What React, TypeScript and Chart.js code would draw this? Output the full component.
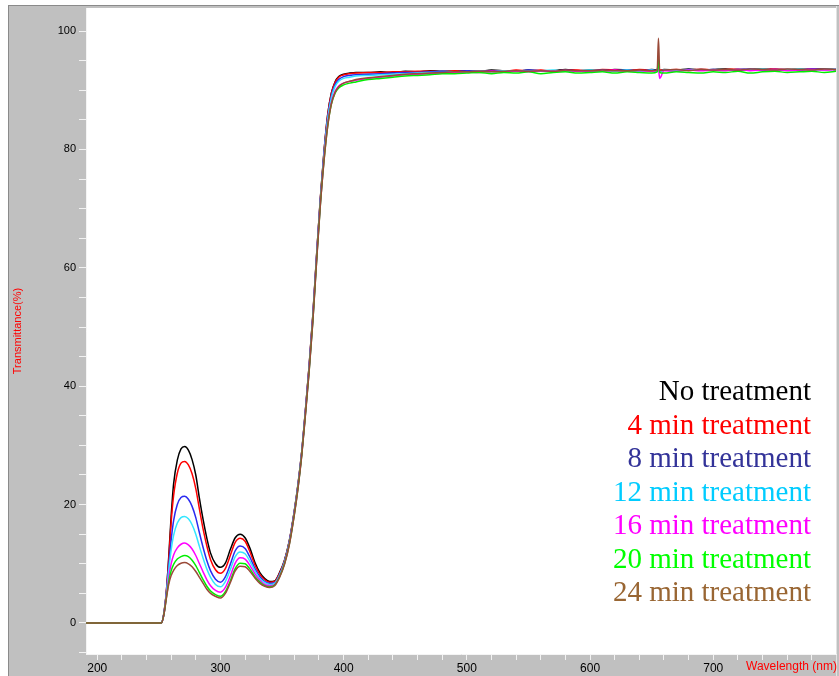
import React, { useEffect, useRef } from 'react';
import { Chart, registerables } from 'chart.js';

Chart.register(...registerables);

const wavelengths = [
  191, 252, 254, 256, 258, 260, 262, 265, 268, 271,
  274, 277, 280, 283, 286, 289, 292, 296, 300, 304,
  308, 312, 316, 320, 324, 328, 332, 336, 340, 344,
  348, 352, 356, 360, 363, 366, 369, 372, 375, 378,
  381, 384, 387, 390, 393, 396, 400, 405, 410, 420,
  430, 440, 450, 460, 470, 480, 490, 500, 510, 520,
  530, 540, 550, 560, 570, 580, 590, 600, 610, 620,
  630, 640, 650, 654.5, 655.5, 656.5, 660, 670, 680, 690,
  700, 710, 720, 730, 740, 750, 760, 770, 780, 790,
  800,
];

const noTreatment = [
  0, 0, 1.5, 5, 11, 18, 23.5, 27.5, 29.4, 29.8,
  29.2, 27.6, 25.0, 21.0, 17.4, 14.3, 11.8, 10.0, 9.4, 10.1,
  12.4, 14.4, 15.0, 14.4, 12.6, 10.2, 8.5, 7.5, 7.0, 7.1,
  8.5, 10.6, 14.0, 19.0, 23.5, 29.0, 36.0, 43.5, 52.0, 62.0,
  71.5, 79.5, 85.8, 89.5, 91.4, 92.3, 92.7, 92.9, 93.0, 93.0,
  93.1, 93.0, 93.2, 93.1, 93.3, 93.2, 93.2, 93.3, 93.2, 93.4,
  93.3, 93.2, 93.4, 93.3, 93.3, 93.5, 93.3, 93.4, 93.3, 93.5,
  93.4, 93.3, 93.5, 93.4, 94.5, 93.3, 93.5, 93.4, 93.6, 93.4,
  93.5, 93.6, 93.4, 93.5, 93.6, 93.5, 93.4, 93.6, 93.5, 93.6,
  93.5,
];

const min4 = [
  0, 0, 1.5, 5, 10.5, 17, 21.5, 25.3, 27.0, 27.3,
  26.7, 25.2, 22.7, 19.2, 15.8, 13.0, 10.7, 9.0, 8.4, 9.2,
  11.4, 13.6, 14.3, 13.8, 12.0, 9.8, 8.2, 7.3, 6.9, 7.0,
  8.4, 10.5, 13.9, 18.9, 23.4, 28.9, 35.9, 43.4, 51.9, 61.9,
  71.4, 79.4, 85.7, 89.4, 91.3, 92.2, 92.6, 92.8, 92.9, 93.0,
  93.0, 93.1, 93.1, 93.2, 93.2, 93.1, 93.3, 93.2, 93.3, 93.3,
  93.2, 93.4, 93.3, 93.4, 93.2, 93.4, 93.4, 93.3, 93.5, 93.4,
  93.3, 93.5, 93.4, 93.3, 94.3, 93.4, 93.4, 93.5, 93.4, 93.6,
  93.4, 93.5, 93.6, 93.4, 93.5, 93.6, 93.5, 93.5, 93.6, 93.5,
  93.6,
];

const min8 = [
  0, 0, 1.4, 4.8, 9.5, 14.0, 17.3, 20.0, 21.2, 21.4,
  20.9, 19.7, 17.8, 15.2, 12.7, 10.5, 8.8, 7.4, 6.9, 7.8,
  9.9, 12.2, 13.0, 12.6, 11.1, 9.2, 7.8, 7.0, 6.7, 6.8,
  8.2, 10.4, 13.8, 18.8, 23.3, 28.8, 35.8, 43.2, 51.7, 61.7,
  71.2, 79.1, 85.3, 89.0, 90.9, 91.8, 92.3, 92.5, 92.6, 92.7,
  92.8, 92.9, 93.0, 93.0, 93.1, 93.2, 93.1, 93.3, 93.2, 93.2,
  93.3, 93.2, 93.4, 93.3, 93.2, 93.4, 93.3, 93.3, 93.4, 93.3,
  93.4, 93.3, 93.4, 93.3, 94.0, 93.2, 93.4, 93.3, 93.5, 93.4,
  93.5, 93.4, 93.5, 93.6, 93.4, 93.5, 93.5, 93.4, 93.6, 93.5,
  93.5,
];

const min12 = [
  0, 0, 1.4, 4.6, 8.8, 12.3, 14.8, 16.9, 17.8, 18.0,
  17.6, 16.6, 15.0, 12.9, 10.9, 9.1, 7.7, 6.5, 6.1, 7.0,
  9.0, 11.2, 12.0, 11.7, 10.4, 8.8, 7.5, 6.8, 6.5, 6.7,
  8.1, 10.3, 13.7, 18.7, 23.2, 28.7, 35.6, 43.0, 51.5, 61.5,
  71.0, 78.9, 85.0, 88.7, 90.6, 91.5, 92.0, 92.2, 92.4, 92.5,
  92.6, 92.7, 92.8, 92.9, 93.0, 93.0, 93.1, 93.1, 93.2, 93.1,
  93.3, 93.2, 93.2, 93.3, 93.4, 93.2, 93.3, 93.4, 93.3, 93.3,
  93.4, 93.2, 93.4, 93.3, 94.2, 93.2, 93.4, 93.3, 93.4, 93.5,
  93.4, 93.4, 93.5, 93.4, 93.6, 93.4, 93.5, 93.6, 93.4, 93.5,
  93.6,
];

const min16 = [
  0, 0, 1.3, 4.3, 7.6, 10.0, 11.5, 12.7, 13.3, 13.5,
  13.2, 12.5, 11.4, 10.0, 8.6, 7.3, 6.3, 5.5, 5.2, 6.0,
  7.9, 10.1, 11.0, 10.8, 9.7, 8.3, 7.2, 6.5, 6.3, 6.5,
  7.9, 10.1, 13.5, 18.5, 23.0, 28.5, 35.4, 42.8, 51.2, 61.2,
  70.6, 78.3, 84.2, 87.9, 89.8, 90.7, 91.2, 91.5, 91.7, 92.0,
  92.2, 92.4, 92.6, 92.7, 92.8, 92.9, 93.0, 93.1, 93.0, 93.2,
  93.1, 93.2, 93.1, 93.3, 93.2, 93.3, 93.2, 93.3, 93.2, 93.4,
  93.2, 93.3, 93.2, 93.4, 93.6, 92.0, 93.3, 93.2, 93.4, 93.3,
  93.4, 93.3, 93.5, 93.3, 93.4, 93.5, 93.3, 93.4, 93.5, 93.4,
  93.5,
];

const min20 = [
  0, 0, 1.3, 4.1, 6.9, 8.8, 9.9, 10.8, 11.2, 11.4,
  11.2, 10.6, 9.7, 8.5, 7.3, 6.2, 5.4, 4.8, 4.5, 5.3,
  7.1, 9.2, 10.1, 10.0, 9.1, 7.8, 6.9, 6.3, 6.1, 6.4,
  7.8, 10.0, 13.4, 18.4, 22.9, 28.4, 35.3, 42.6, 51.0, 61.0,
  70.4, 78.0, 83.9, 87.6, 89.5, 90.4, 90.9, 91.2, 91.4, 91.8,
  92.0, 92.2, 92.4, 92.5, 92.6, 92.8, 92.8, 92.9, 93.0, 92.8,
  93.0, 92.9, 93.1, 92.8, 93.0, 93.1, 92.9, 93.0, 93.1, 92.9,
  93.1, 93.0, 92.9, 93.1, 95.3, 93.0, 92.9, 93.1, 93.0, 92.9,
  93.1, 93.0, 93.2, 92.9, 93.1, 93.2, 93.0, 93.1, 93.2, 93.0,
  93.2,
];

const min24 = [
  0, 0, 1.3, 4.0, 6.5, 8.0, 8.9, 9.7, 10.1, 10.2,
  10.0, 9.5, 8.7, 7.7, 6.7, 5.7, 5.0, 4.5, 4.2, 5.0,
  6.8, 8.8, 9.6, 9.5, 8.7, 7.6, 6.7, 6.2, 6.0, 6.3,
  7.7, 9.9, 13.3, 18.3, 22.8, 28.3, 35.2, 42.5, 50.9, 60.9,
  70.3, 77.9, 83.8, 87.6, 89.6, 90.6, 91.2, 91.5, 91.8, 92.1,
  92.3, 92.5, 92.7, 92.8, 92.9, 93.0, 93.1, 93.1, 93.2, 93.1,
  93.2, 93.3, 93.2, 93.3, 93.2, 93.4, 93.3, 93.3, 93.4, 93.3,
  93.3, 93.4, 93.3, 93.4, 98.8, 93.3, 93.4, 93.5, 93.3, 93.5,
  93.4, 93.5, 93.4, 93.6, 93.5, 93.4, 93.6, 93.5, 93.4, 93.6,
  93.5,
];

const seriesNames = [
  'No treatment',
  '4 min treatment',
  '8 min treatment',
  '12 min treatment',
  '16 min treatment',
  '20 min treatment',
  '24 min treatment',
];
const seriesValues = [noTreatment, min4, min8, min12, min16, min20, min24];
const lineColors = ['#000000', '#ff0000', '#2a2af0', '#33e6ff', '#ff00ff', '#00ee00', '#9a4a38'];
const legendColors = ['#000000', '#ff0000', '#333399', '#00ccff', '#ff00ff', '#00ff00', '#996633'];

const xTicks = [
  200, 220, 240, 260, 280, 300, 320, 340, 360, 380,
  400, 420, 440, 460, 480, 500, 520, 540, 560, 580,
  600, 620, 640, 660, 680, 700, 720, 740, 760, 780,
];
const xTickLabels = [200, 300, 400, 500, 600, 700];
const yTicks = [
  -5, 0, 5, 10, 15, 20, 25, 30, 35, 40, 45, 50,
  55, 60, 65, 70, 75, 80, 85, 90, 95, 100,
];
const yTickLabels = [0, 20, 40, 60, 80, 100];
const xTitle = 'Wavelength (nm)';
const yTitle = 'Transmittance(%)';

export default function App() {
  const ref = useRef<HTMLCanvasElement>(null);

  useEffect(() => {
    document.body.style.margin = '0';
    const canvas = ref.current;
    if (!canvas) return;

    const decorPlugin = {
      id: 'decor',
      beforeDraw(chart: any) {
        const ctx = chart.ctx;
        const { left, top, right, bottom } = chart.chartArea;
        ctx.save();
        ctx.fillStyle = '#ffffff';
        ctx.fillRect(0, 0, 839, 676);
        ctx.fillStyle = '#c0c0c0';
        ctx.fillRect(8, 5, 831, 671);
        ctx.fillStyle = '#8a8a8a';
        ctx.fillRect(8, 5, 831, 1);
        ctx.fillRect(8, 5, 1, 671);
        ctx.fillStyle = '#ffffff';
        ctx.fillRect(left, top, right - left, bottom - top);
        ctx.fillStyle = '#e2e2e2';
        ctx.fillRect(right, 6, 1, 670);
        ctx.restore();
      },
      afterDraw(chart: any) {
        const ctx = chart.ctx;
        const { top, bottom } = chart.chartArea;
        ctx.save();
        // x axis title
        ctx.fillStyle = '#ff0000';
        ctx.font = '12px "Liberation Sans", Arial, sans-serif';
        ctx.textAlign = 'left';
        ctx.textBaseline = 'middle';
        ctx.fillText(xTitle, 746, 667);
        // y axis title
        ctx.font = '11px "Liberation Sans", Arial, sans-serif';
        ctx.translate(18, (top + bottom) / 2);
        ctx.rotate(-Math.PI / 2);
        ctx.textAlign = 'center';
        ctx.fillText(yTitle, 0, 0);
        ctx.restore();

        // legend
        ctx.save();
        ctx.font = '29px "Liberation Serif", "Times New Roman", serif';
        ctx.textAlign = 'right';
        ctx.textBaseline = 'alphabetic';
        seriesNames.forEach((name, i) => {
          ctx.fillStyle = legendColors[i];
          ctx.fillText(name, 811, 400 + i * 33.5);
        });
        ctx.restore();
      },
    };

    const datasets = seriesNames.map((name, i) => ({
      label: name,
      data: wavelengths.map((x, j) => ({ x, y: seriesValues[i][j] })),
      borderColor: lineColors[i],
      backgroundColor: lineColors[i],
      borderWidth: 1.5,
      pointRadius: 0,
      fill: false,
      cubicInterpolationMode: 'monotone' as const,
      order: seriesNames.length - 1 - i,
    }));

    const chart = new Chart(canvas, {
      type: 'line',
      data: { datasets },
      options: {
        animation: false,
        responsive: false,
        devicePixelRatio: 1,
        layout: { padding: { left: 0, right: 3, top: 8, bottom: 0 } },
        plugins: {
          legend: { display: false },
          tooltip: { enabled: false },
        },
        scales: {
          x: {
            type: 'linear',
            min: 190.9,
            max: 799.6,
            afterBuildTicks: (s: any) => {
              s.ticks = xTicks.map((v) => ({ value: v }));
            },
            afterFit: (s: any) => {
              s.height = 22;
              s.paddingLeft = 0;
              s.paddingRight = 0;
            },
            ticks: {
              autoSkip: false,
              maxRotation: 0,
              padding: 1,
              color: '#000000',
              font: { family: '"Liberation Sans", Arial, sans-serif', size: 12 },
              callback: (v: any) => (xTickLabels.includes(Number(v)) ? String(v) : ''),
            },
            grid: {
              drawOnChartArea: false,
              drawTicks: true,
              tickLength: 6,
              color: '#f2f2f2',
            },
            border: { color: '#f4f4f4', width: 1 },
          },
          y: {
            type: 'linear',
            min: -5.24,
            max: 103.89,
            afterBuildTicks: (s: any) => {
              s.ticks = yTicks.map((v) => ({ value: v }));
            },
            afterFit: (s: any) => {
              s.width = 86;
              s.paddingTop = 0;
              s.paddingBottom = 0;
            },
            ticks: {
              autoSkip: false,
              padding: 3,
              color: '#000000',
              font: { family: '"Liberation Sans", Arial, sans-serif', size: 11 },
              callback: (v: any) => (yTickLabels.includes(Number(v)) ? String(v) : ''),
            },
            grid: {
              drawOnChartArea: false,
              drawTicks: true,
              tickLength: 7,
              color: '#f2f2f2',
            },
            border: { color: '#f4f4f4', width: 1 },
          },
        },
      },
      plugins: [decorPlugin],
    });

    return () => {
      chart.destroy();
    };
  }, []);

  return (
    <div style={{ width: 839, height: 676 }}>
      <canvas ref={ref} width={839} height={676} style={{ display: 'block' }} />
    </div>
  );
}
